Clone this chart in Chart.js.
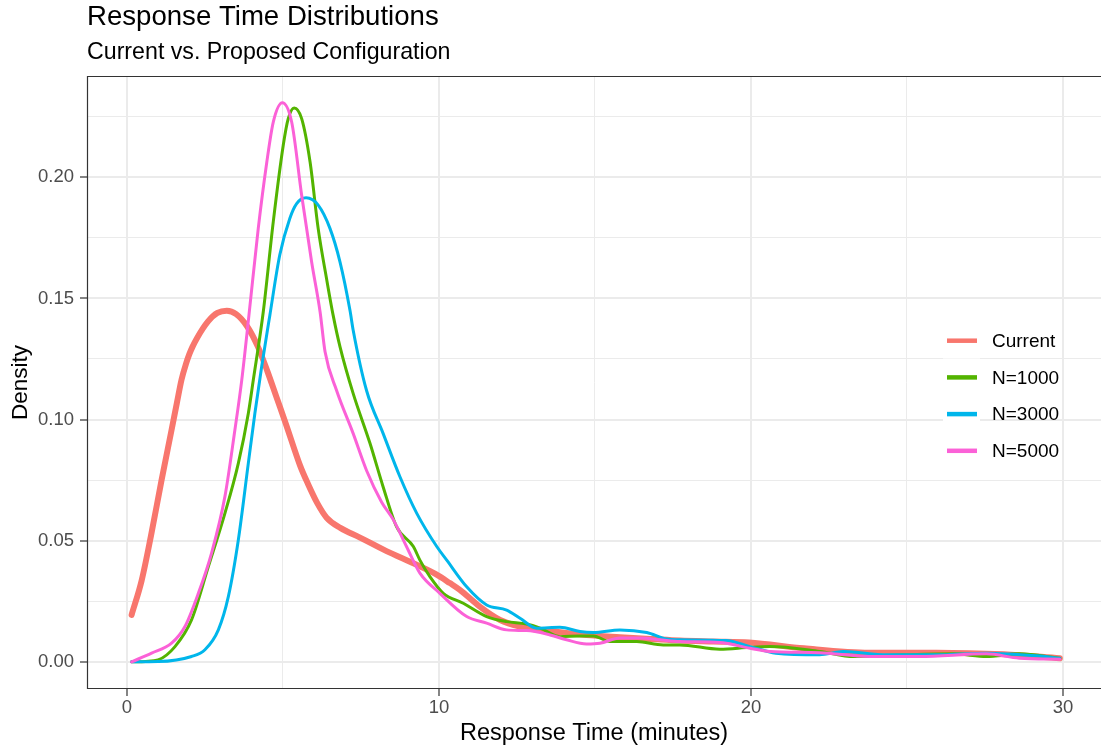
<!DOCTYPE html>
<html>
<head>
<meta charset="utf-8">
<script src="https://cdn.jsdelivr.net/npm/chart.js@4.4.1/dist/chart.umd.min.js"></script>
<style>
  html, body { margin: 0; padding: 0; background: #ffffff; }
  #wrap { width: 1101px; height: 751px; }
</style>
</head>
<body>
<div id="wrap"><canvas id="c" width="1101" height="751"></canvas></div>
<script>
// ---------------- DATA ----------------
const chartTitle = "Response Time Distributions";
const chartSubtitle = "Current vs. Proposed Configuration";
const xAxisTitle = "Response Time (minutes)";
const yAxisTitle = "Density";

const seriesNames = ["Current", "N=1000", "N=3000", "N=5000"];
const seriesColors = ["#F8766D", "#53B400", "#00B6EB", "#FB61D7"];

const currentX = [0.15, 0.47, 0.77, 1.11, 1.43, 1.6, 1.75, 1.9, 2.0, 2.1, 2.24, 2.6, 2.9, 3.2, 3.5, 3.85, 4.2, 4.5, 4.8, 5.1, 5.55, 5.8, 6.1, 6.4, 6.84, 7.47, 8.32, 9.18, 9.9, 10.35, 10.67, 11.31, 11.96, 12.6, 13.66, 14.73, 15.8, 16.87, 17.72, 18.8, 19.94, 21.7, 23.8, 25.95, 28.1, 29.9];
const currentY = [0.0194, 0.0335, 0.052, 0.075, 0.0957, 0.1068, 0.1165, 0.1233, 0.127, 0.130, 0.1335, 0.1405, 0.144, 0.1449, 0.1435, 0.1385, 0.130, 0.120, 0.109, 0.098, 0.081, 0.0735, 0.0655, 0.0595, 0.0553, 0.0513, 0.0457, 0.0407, 0.0362, 0.0325, 0.0297, 0.0228, 0.0173, 0.0146, 0.0125, 0.0111, 0.0102, 0.0094, 0.0088, 0.0084, 0.008, 0.0056, 0.0038, 0.0038, 0.0031, 0.0015];

const n1000X = [0.15, 0.6, 1.0, 1.54, 2.07, 2.61, 3.14, 3.57, 3.89, 4.05, 4.37, 4.69, 5.01, 5.17, 5.36, 5.6, 5.87, 6.13, 6.4, 6.61, 6.83, 7.25, 7.79, 8.21, 8.64, 9.18, 9.39, 9.71, 10.14, 10.78, 11.53, 12.17, 12.81, 13.24, 13.88, 14.52, 14.95, 15.48, 16.34, 17.19, 17.72, 19.0, 19.97, 20.6, 22.2, 23.3, 24.9, 26.5, 27.55, 28.6, 29.9];
const n1000Y = [0.0, 0.0002, 0.0008, 0.0063, 0.0173, 0.0393, 0.0613, 0.0819, 0.1025, 0.1163, 0.1445, 0.1816, 0.2132, 0.2242, 0.2286, 0.2242, 0.2063, 0.1788, 0.158, 0.143, 0.130, 0.1108, 0.0902, 0.0723, 0.0558, 0.0476, 0.042, 0.0352, 0.0283, 0.0242, 0.0187, 0.0166, 0.0156, 0.0139, 0.0104, 0.0107, 0.0107, 0.0084, 0.0084, 0.007, 0.007, 0.0052, 0.006, 0.0063, 0.0043, 0.0022, 0.0029, 0.0033, 0.0022, 0.0033, 0.0015];

const n3000X = [0.15, 1.0, 2.07, 2.5, 2.93, 3.25, 3.57, 3.89, 4.1, 4.32, 4.58, 4.9, 5.22, 5.44, 5.74, 6.13, 6.51, 6.83, 7.15, 7.25, 7.68, 8.21, 8.75, 9.29, 9.93, 10.25, 10.89, 11.53, 12.17, 12.6, 13.13, 13.88, 14.52, 14.95, 15.8, 16.66, 17.3, 17.72, 19.2, 19.97, 20.8, 22.2, 22.96, 24.35, 25.95, 27.55, 29.16, 29.9];
const n3000Y = [0.0, 0.0001, 0.0022, 0.005, 0.0132, 0.0269, 0.0503, 0.0819, 0.1025, 0.122, 0.143, 0.168, 0.183, 0.1891, 0.1915, 0.1885, 0.1788, 0.165, 0.145, 0.137, 0.112, 0.0943, 0.0764, 0.0613, 0.0476, 0.042, 0.031, 0.0235, 0.0214, 0.018, 0.0139, 0.0143, 0.0125, 0.0121, 0.0132, 0.0121, 0.0094, 0.0091, 0.0088, 0.0063, 0.0036, 0.0029, 0.0043, 0.0029, 0.0029, 0.0036, 0.0025, 0.0015];

const n5000X = [0.15, 0.79, 1.43, 1.86, 2.29, 2.71, 3.14, 3.46, 3.68, 3.91, 4.21, 4.48, 4.69, 4.98, 5.28, 5.6, 5.92, 6.19, 6.35, 6.72, 7.25, 7.68, 8.16, 8.54, 8.96, 9.39, 10.03, 10.89, 11.53, 12.17, 12.81, 13.45, 14.09, 14.73, 15.16, 15.8, 16.44, 17.08, 17.72, 19.0, 19.97, 20.6, 22.2, 23.8, 25.4, 27.55, 28.6, 29.9];
const n5000Y = [0.0, 0.0036, 0.0077, 0.0146, 0.0283, 0.0448, 0.0682, 0.0957, 0.1163, 0.143, 0.179, 0.206, 0.2228, 0.2308, 0.2228, 0.1926, 0.165, 0.1445, 0.128, 0.112, 0.0943, 0.079, 0.066, 0.0586, 0.0476, 0.0366, 0.0283, 0.0187, 0.016, 0.0132, 0.0129, 0.0115, 0.0091, 0.0074, 0.0077, 0.0098, 0.0098, 0.0091, 0.0084, 0.008, 0.0056, 0.0043, 0.0038, 0.0022, 0.0022, 0.0033, 0.0015, 0.0011];

const xTickValues = [0, 5, 10, 15, 20, 25, 30];
const xTickLabels = ["0", "", "10", "", "20", "", "30"];
const yTickValues = [0, 0.025, 0.05, 0.075, 0.10, 0.125, 0.15, 0.175, 0.20, 0.225];
const yTickLabels = ["0.00", "", "0.05", "", "0.10", "", "0.15", "", "0.20", ""];

// ---------------- CHART ----------------
const FONT = "'Liberation Sans', Arial, Helvetica, sans-serif";
Chart.defaults.font.family = FONT;

const xs = [currentX, n1000X, n3000X, n5000X];
const ys = [currentY, n1000Y, n3000Y, n5000Y];
const widths = [6, 3, 3, 3];

const datasets = seriesNames.map((name, i) => ({
  label: name,
  data: xs[i].map((x, k) => ({ x: x, y: ys[i][k] })),
  borderColor: seriesColors[i],
  backgroundColor: seriesColors[i],
  borderWidth: widths[i],
  borderCapStyle: 'round',
  borderJoinStyle: 'round',
  pointRadius: 0,
  pointHoverRadius: 0,
  fill: false,
  cubicInterpolationMode: 'monotone',
  order: seriesNames.length - i
}));

const isMajorX = v => Math.abs(v % 10) < 1e-9;
const isMajorY = v => Math.abs(Math.round(v / 0.05) * 0.05 - v) < 1e-9;

const decorPlugin = {
  id: 'decor',
  afterDraw(chart) {
    const ctx = chart.ctx;
    const a = chart.chartArea;
    ctx.save();
    // panel border (right edge falls outside the picture)
    ctx.strokeStyle = '#333333';
    ctx.lineWidth = 1.2;
    ctx.beginPath();
    ctx.moveTo(a.right + 2, a.top + 0.5);
    ctx.lineTo(a.left + 0.5, a.top + 0.5);
    ctx.lineTo(a.left + 0.5, a.bottom - 0.5);
    ctx.lineTo(a.right + 2, a.bottom - 0.5);
    ctx.stroke();
    // titles
    ctx.fillStyle = '#000000';
    ctx.textAlign = 'left';
    ctx.textBaseline = 'alphabetic';
    ctx.font = "27.6px " + FONT;
    ctx.fillText(chartTitle, 87, 25);
    ctx.font = "23.2px " + FONT;
    ctx.fillText(chartSubtitle, 87, 58.5);
    ctx.restore();
  },
  afterDatasetsDraw(chart) {
    // legend inside the panel
    const ctx = chart.ctx;
    ctx.save();
    const rowH = 36.7;
    const firstY = 340.7;
    seriesNames.forEach((name, i) => {
      const cy = firstY + i * rowH;
      ctx.fillStyle = '#ffffff';
      ctx.fillRect(943, cy - rowH / 2 + 0.5, 37, rowH - 1);
      ctx.strokeStyle = seriesColors[i];
      ctx.lineWidth = 4.5;
      ctx.lineCap = 'butt';
      ctx.beginPath();
      ctx.moveTo(947, cy);
      ctx.lineTo(977, cy);
      ctx.stroke();
      ctx.fillStyle = '#000000';
      ctx.font = "19px " + FONT;
      ctx.textAlign = 'left';
      ctx.textBaseline = 'middle';
      ctx.fillText(name, 992, cy + 1);
    });
    ctx.restore();
  }
};

new Chart(document.getElementById('c'), {
  type: 'line',
  data: { datasets: datasets },
  options: {
    responsive: false,
    animation: false,
    devicePixelRatio: 1,
    layout: { padding: { top: 76, left: 0, right: 0, bottom: 0 } },
    plugins: {
      legend: { display: false },
      title: { display: false },
      tooltip: { enabled: false }
    },
    scales: {
      x: {
        type: 'linear',
        min: -1.28,
        max: 31.22,
        afterFit: s => { s.height = 62; },
        afterBuildTicks: s => { s.ticks = xTickValues.map(v => ({ value: v })); },
        border: { display: false },
        grid: {
          color: '#ebebeb',
          lineWidth: c => (isMajorX(c.tick.value) ? 2 : 1),
          tickLength: 7,
          tickWidth: 1.2,
          tickColor: c => (isMajorX(c.tick.value) ? '#333333' : 'rgba(0,0,0,0)')
        },
        ticks: {
          autoSkip: false,
          maxRotation: 0,
          padding: 1,
          color: '#4d4d4d',
          font: { size: 18.5 },
          callback: v => { const k = xTickValues.indexOf(v); return k >= 0 ? xTickLabels[k] : ''; }
        },
        title: {
          display: true,
          text: xAxisTitle,
          color: '#000000',
          font: { size: 23.5 },
          padding: { top: 0, bottom: 3 }
        }
      },
      y: {
        type: 'linear',
        min: -0.0112,
        max: 0.2418,
        afterFit: s => { s.width = 87; },
        afterBuildTicks: s => { s.ticks = yTickValues.map(v => ({ value: v })); },
        border: { display: false },
        grid: {
          color: '#ebebeb',
          lineWidth: c => (isMajorY(c.tick.value) ? 2 : 1),
          tickLength: 7,
          tickWidth: 1.2,
          tickColor: c => (isMajorY(c.tick.value) ? '#333333' : 'rgba(0,0,0,0)')
        },
        ticks: {
          autoSkip: false,
          padding: 6,
          color: '#4d4d4d',
          font: { size: 18.5 },
          callback: v => { const k = yTickValues.findIndex(t => Math.abs(t - v) < 1e-9); return k >= 0 ? yTickLabels[k] : ''; }
        },
        title: {
          display: true,
          text: yAxisTitle,
          color: '#000000',
          font: { size: 22.5 },
          padding: { top: 7, bottom: 0 }
        }
      }
    }
  },
  plugins: [decorPlugin]
});
</script>
</body>
</html>
